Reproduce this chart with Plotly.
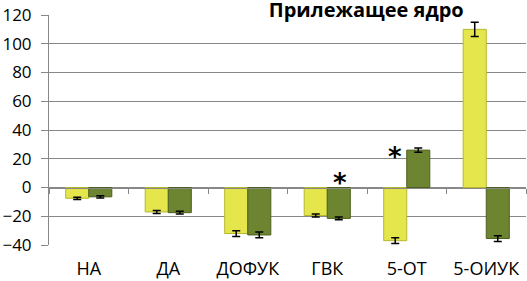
import plotly.graph_objects as go

categories = ["НА", "ДА", "ДОФУК", "ГВК", "5-ОТ", "5-ОИУК"]
series1 = [-7.5, -17, -32, -19.5, -37, 110]
series1_err = [0.8, 1, 2, 1, 2, 5]
series2 = [-6.5, -17.5, -33, -21.5, 26, -35.5]
series2_err = [0.8, 1, 2, 1, 1.5, 2]
y_ticks = [-40, -20, 0, 20, 40, 60, 80, 100, 120]
title_text = "Прилежащее ядро"
star_marks = [("ГВК", 3, 13), ("5-ОТ", 21.5, -12)]

FONT = "Open Sans"

fig = go.Figure()
fig.add_trace(go.Bar(
    x=categories, y=series1, name="s1",
    marker=dict(color="#e4e64c", line=dict(color="#b5b82e", width=1)),
    error_y=dict(type="data", array=series1_err, color="black", thickness=1.5, width=4),
))
fig.add_trace(go.Bar(
    x=categories, y=series2, name="s2",
    marker=dict(color="#6d8430", line=dict(color="#4d5f1e", width=1)),
    error_y=dict(type="data", array=series2_err, color="black", thickness=1.5, width=4),
))
# invisible trace for the zero-line category axis
fig.add_trace(go.Scatter(x=categories, y=[0]*len(categories), xaxis="x2", mode="none",
                         showlegend=False, hoverinfo="skip"))

for cat, yv, xs in star_marks:
    fig.add_annotation(x=cat, y=yv, xref="x", yref="y", text="<b>*</b>", showarrow=False,
                       xshift=xs, font=dict(family="DejaVu Sans", size=26, color="black"),
                       yanchor="middle")

fig.update_layout(
    width=527, height=281,
    margin=dict(l=49, r=1, t=15, b=36, autoexpand=False),
    paper_bgcolor="white", plot_bgcolor="white",
    barmode="group", bargap=0.42, bargroupgap=0,
    showlegend=False,
    title=dict(text="<b>" + title_text + "</b>", x=0.695, xanchor="center",
               y=1 - 10/281, yanchor="middle", automargin=False,
               font=dict(family=FONT, size=20, color="black")),
    xaxis=dict(type="category", range=[-0.5, 5.5], showline=False, showgrid=False,
               ticks="", tickfont=dict(family=FONT, size=18, color="black"),
               ticklabelstandoff=11, zeroline=False, automargin=False),
    xaxis2=dict(type="category", overlaying="x", anchor="free", position=0.25,
                range=[-0.5, 5.5], side="bottom", showline=True, linecolor="#888888",
                linewidth=1, ticks="outside", ticklen=5, tickcolor="#888888",
                tickson="boundaries", showticklabels=False, showgrid=False, zeroline=False,
                automargin=False),
    yaxis=dict(range=[-40, 120], tickvals=y_ticks, showline=True, linecolor="#888888",
               linewidth=1, ticks="outside", ticklen=7, tickcolor="#888888",
               gridcolor="#888888", gridwidth=1, zeroline=False, automargin=False,
               tickfont=dict(family=FONT, size=17, color="black"), ticklabelstandoff=6),
)

fig.write_html("out.html", config={"displayModeBar": False},
               post_script="document.body.style.margin='0';document.body.style.overflow='hidden';")
